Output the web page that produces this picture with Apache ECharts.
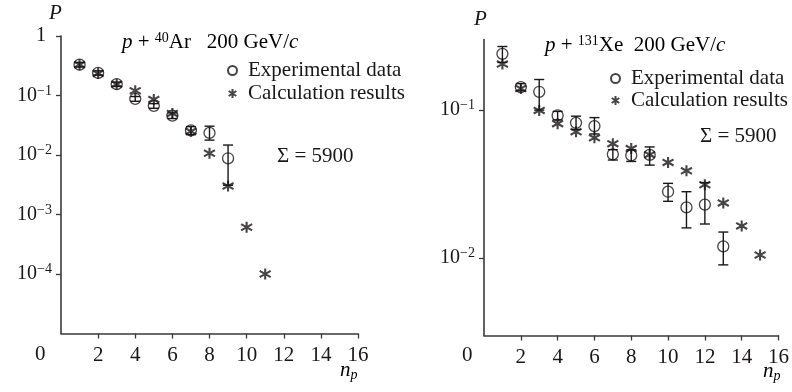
<!DOCTYPE html>
<html><head><meta charset="utf-8">
<script src="https://cdn.jsdelivr.net/npm/echarts@6/dist/echarts.min.js"></script>
<style>html,body{margin:0;padding:0;background:#fff}#c{width:792px;height:392px}</style>
</head><body><div id="c"></div>
<script>
// ---- data ----
const nLeft = [1,2,3,4,5,6,7,8,9];
const expLeft = [0.33,0.24,0.155,0.088,0.067,0.046,0.026,0.0235,0.0088];
const expLeftLo = [0.30,0.22,0.142,0.080,0.061,0.041,0.022,0.0178,0.0031];
const expLeftHi = [0.36,0.26,0.168,0.096,0.073,0.051,0.030,0.0305,0.0147];
const nCalcLeft = [1,2,3,4,5,6,7,8,9,10,11];
const calcLeft = [0.33,0.235,0.155,0.12,0.086,0.05,0.025,0.0107,0.003,0.00061,0.0001];

const nRight = [1,2,3,4,5,6,7,8,9,10,11,12,13];
const expRight = [0.24,0.143,0.133,0.092,0.082,0.078,0.0503,0.0495,0.0498,0.0281,0.022,0.023,0.012];
const expRightLo = [0.21,0.135,0.100,0.086,0.074,0.069,0.046,0.045,0.0425,0.0242,0.016,0.017,0.0090];
const expRightHi = [0.269,0.151,0.161,0.098,0.091,0.089,0.054,0.054,0.0564,0.0320,0.0281,0.0324,0.0150];
const nCalcRight = [1,2,3,4,5,6,7,8,9,10,11,12,13,14,15];
const calcRight = [0.205,0.14,0.0995,0.081,0.0714,0.065,0.0593,0.055,0.05,0.0443,0.0389,0.0313,0.0236,0.0165,0.0105];

const xTicks = [2,4,6,8,10,12,14,16];
const yTicksLeft = [1,0.1,0.01,0.001,0.0001];
const yTicksRight = [0.1,0.01];
const seriesNames = ['Experimental data','Calculation results'];

// ---- styles ----
const INK = '#1a1718';
const AX = '#3a3a3a';
const FONT = 'Liberation Serif';
const STAR = 'path://M5 0 L5 10 M0.8 2.2 L9.2 7.8 M0.8 7.8 L9.2 2.2';

function pow10Label(v){
  if (Math.abs(v-1) < 1e-9) return '{o|1}';
  const e = Math.round(Math.log10(v));
  return '{b|10}{s|\u2212' + (-e) + '}';
}
const yRich = {
  b:{fontFamily:FONT,fontSize:20,color:INK},
  o:{fontFamily:FONT,fontSize:20,color:INK,padding:[0,6,0,0]},
  s:{fontFamily:FONT,fontSize:14,color:INK,verticalAlign:'top',padding:[0,0,9,0]}
};

function zip(xs, ys){ return xs.map((x,i)=>[x, ys[i]]); }
function errData(xs, lo, hi){ return xs.map((x,i)=>[x, lo[i], hi[i]]); }

function errRender(params, api){
  const x = api.value(0);
  const lo = api.coord([x, api.value(1)]);
  const hi = api.coord([x, api.value(2)]);
  const w = 5;
  const st = {stroke: INK, lineWidth: 1.4, fill: null};
  return {type:'group', children:[
    {type:'line', shape:{x1:hi[0],y1:hi[1],x2:lo[0],y2:lo[1]}, style:st},
    {type:'line', shape:{x1:hi[0]-w,y1:hi[1],x2:hi[0]+w,y2:hi[1]}, style:st},
    {type:'line', shape:{x1:lo[0]-w,y1:lo[1],x2:lo[0]+w,y2:lo[1]}, style:st}
  ]};
}

function xAxis(gi){
  return {
    type:'value', gridIndex:gi, min:0, max:16,
    axisLine:{show:true, onZero:false, lineStyle:{color:AX,width:1.6}},
    axisTick:{show:true, customValues:xTicks, length:5, inside:false, lineStyle:{color:AX,width:1.3}},
    axisLabel:{customValues:xTicks, fontFamily:FONT, fontSize:21, color:INK, margin:11},
    splitLine:{show:false}
  };
}
function yAxis(gi, min, max, ticks){
  return {
    type:'log', logBase:10, gridIndex:gi, min:min, max:max,
    axisLine:{show:true, lineStyle:{color:AX,width:1.6}},
    axisTick:{show:true, customValues:ticks, length:5, lineStyle:{color:AX,width:1.3}},
    axisLabel:{customValues:ticks, formatter:pow10Label, rich:yRich, margin:9},
    splitLine:{show:false}, minorTick:{show:false}
  };
}

const circleStyle = {color:'rgba(0,0,0,0)', borderColor:INK, borderWidth:1.3};
const starStyle = {color:'rgba(0,0,0,0)', borderColor:INK, borderWidth:2.1};

const titleRich = {
  i:{fontFamily:FONT,fontSize:21,fontStyle:'italic',color:INK},
  n:{fontFamily:FONT,fontSize:21,color:INK},
  s:{fontFamily:FONT,fontSize:14,color:INK,verticalAlign:'top',padding:[0,0,9,0]}
};
const npRich = {
  i:{fontFamily:FONT,fontSize:21,fontStyle:'italic',color:INK},
  p:{fontFamily:FONT,fontSize:14,fontStyle:'italic',color:INK,verticalAlign:'bottom',padding:[9,0,0,0]}
};
function legend(left, top, gap){
  return {orient:'vertical', left:left, top:top, padding:0, itemWidth:9, itemHeight:9, itemGap:gap,
    data:seriesNames, selectedMode:false,
    textStyle:{fontFamily:FONT,fontSize:21,color:INK,lineHeight:21,padding:[0,0,0,6]}};
}

const option = {
  animation:false,
  backgroundColor:'#fff',
  grid:[
    {left:61, top:36, width:297, height:297.5},
    {left:484, top:39.5, width:297, height:296}
  ],
  xAxis:[xAxis(0), xAxis(1)],
  yAxis:[yAxis(0, 1e-5, 1, yTicksLeft), yAxis(1, 0.003, 0.3, yTicksRight)],
  legend:[legend(227, 60, 2), legend(610, 68, 1)],
  series:[
    {type:'custom', xAxisIndex:0, yAxisIndex:0, renderItem:errRender, data:errData(nLeft, expLeftLo, expLeftHi), z:2, silent:true},
    {name:seriesNames[0], type:'scatter', xAxisIndex:0, yAxisIndex:0, symbol:'circle', symbolSize:11, itemStyle:circleStyle, data:zip(nLeft, expLeft), z:3},
    {name:seriesNames[1], type:'scatter', xAxisIndex:0, yAxisIndex:0, symbol:STAR, symbolSize:11, itemStyle:starStyle, data:zip(nCalcLeft, calcLeft), z:4},
    {type:'custom', xAxisIndex:1, yAxisIndex:1, renderItem:errRender, data:errData(nRight, expRightLo, expRightHi), z:2, silent:true},
    {name:seriesNames[0], type:'scatter', xAxisIndex:1, yAxisIndex:1, symbol:'circle', symbolSize:11, itemStyle:circleStyle, data:zip(nRight, expRight), z:3},
    {name:seriesNames[1], type:'scatter', xAxisIndex:1, yAxisIndex:1, symbol:STAR, symbolSize:11, itemStyle:starStyle, data:zip(nCalcRight, calcRight), z:4}
  ],
  graphic:[
    {type:'text', left:122, top:31, style:{text:'{i|p}{n| + }{s|40}{n|Ar   200 GeV/}{i|c}', rich:titleRich}},
    {type:'text', left:545, top:34, style:{text:'{i|p}{n| + }{s|131}{n|Xe  200 GeV/}{i|c}', rich:titleRich}},
    {type:'text', left:277, top:146, style:{text:'\u03a3 = 5900', font:'21px "Liberation Serif"', fill:INK}},
    {type:'text', left:700, top:126, style:{text:'\u03a3 = 5900', font:'21px "Liberation Serif"', fill:INK}},
    {type:'text', left:49, top:3, style:{text:'P', font:'italic 21px "Liberation Serif"', fill:INK}},
    {type:'text', left:474, top:9, style:{text:'P', font:'italic 21px "Liberation Serif"', fill:INK}},
    {type:'text', left:35, top:344, style:{text:'0', font:'21px "Liberation Serif"', fill:INK}},
    {type:'text', left:462, top:345, style:{text:'0', font:'21px "Liberation Serif"', fill:INK}},
    {type:'text', left:340, top:360, style:{text:'{i|n}{p|p}', rich:npRich}},
    {type:'text', left:763, top:361, style:{text:'{i|n}{p|p}', rich:npRich}}
  ]
};
const chart = echarts.init(document.getElementById('c'), null, {renderer:'canvas'});
chart.setOption(option);
</script></body></html>
